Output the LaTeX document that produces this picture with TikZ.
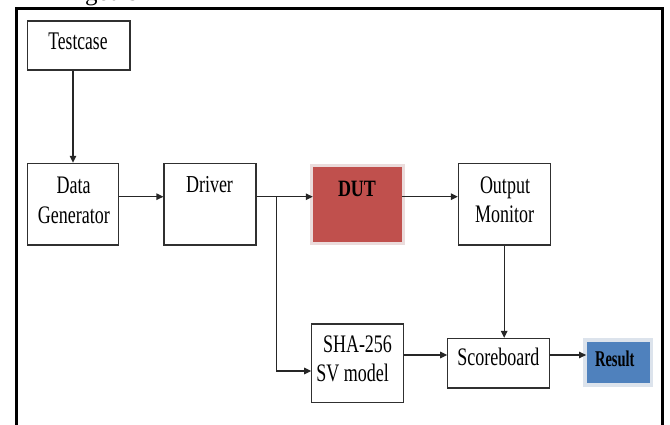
\documentclass[tikz,border=0pt]{standalone}
\usepackage{fontspec}
\usepackage{graphicx}
\setmainfont{Liberation Serif}
\usetikzlibrary{arrows.meta}
\definecolor{dutred}{HTML}{C0504D}
\definecolor{resblue}{HTML}{4F81BD}
\definecolor{dutpale}{HTML}{EBDCDC}
\definecolor{respale}{HTML}{DCE3EC}
\definecolor{edge}{HTML}{303030}
\newcommand\vst[2][1.4]{\scalebox{1}[#1]{#2}}
\begin{document}
\begin{tikzpicture}[x=1pt,y=-1pt,
  box/.style={draw=edge, line width=1.1pt, inner sep=0pt, fill=white},
  lbl/.style={inner sep=0pt, anchor=base, font=\fontsize{18}{21}\selectfont},
  arr/.style={draw=black!85, line width=1.2pt, -{Triangle[length=7pt,width=6.5pt]}},
  ln/.style={draw=black!85, line width=1.2pt}]
\useasboundingbox (0,0) rectangle (670,425);
\fill[white] (0,0) rectangle (670,425);
\node[lbl, font=\fontsize{25}{30}\selectfont] (goals) at (111.5,1) {goals};
\draw[line width=3pt, line join=miter] (16,450) -- (16,8.7) -- (662,8.7) -- (662,450);

% boxes
\node[box, minimum width=102.3pt, minimum height=49pt] (tc) at (78.8,45.5) {};
\node[lbl, font=\fontsize{17.5}{21}\selectfont] (tct) at (78,49.3) {\vst[1.45]{Testcase}};

\node[box, minimum width=90.6pt, minimum height=81.7pt] (dg) at (73,204.2) {};
\node[lbl] (dgt1) at (73.7,193.3) {\vst{Data}};
\node[lbl] (dgt2) at (73.8,223.3) {\vst{Generator}};

\node[box, minimum width=92pt, minimum height=81.7pt] (dr) at (210,204.2) {};
\node[lbl] (drt) at (209.5,192.7) {\vst[1.35]{Driver}};

\node[box, draw=none, fill=dutred, preaction={draw=dutpale, line width=7pt},
      minimum width=88.4pt, minimum height=74.4pt] (dut) at (357.5,204.5) {};
\node[lbl, font=\fontsize{18}{21}\bfseries] (dutt) at (357,196.7) {\vst[1.3]{DUT}};

\node[box, minimum width=91.7pt, minimum height=81.7pt] (om) at (504.2,204.2) {};
\node[lbl] (omt1) at (505,193.3) {\vst{Output}};
\node[lbl] (omt2) at (504.7,222.7) {\vst{Monitor}};

\node[box, minimum width=91.6pt, minimum height=78.7pt] (sha) at (357.5,363.3) {};
\node[lbl] (shat1) at (357.5,352.7) {\vst{SHA-256}};
\node[lbl] (shat2) at (352.5,381.7) {\vst{SV model}};

\node[box, minimum width=102pt, minimum height=49.5pt] (sb) at (498.7,363.2) {};
\node[lbl] (sbt) at (498.3,365.7) {\vst{Scoreboard}};

\node[box, draw=none, fill=resblue, preaction={draw=respale, line width=7pt},
      minimum width=63.3pt, minimum height=41.6pt] (res) at (618.3,362.5) {};
\node[lbl, font=\fontsize{14.5}{18}\bfseries] (rest) at (614.8,366.7) {\vst[1.55]{Result}};

% connectors
\coordinate (j) at (276.7,196.7);
\draw[arr] (dg.north |- tc.south) -- (dg.north);
\draw[arr] ([yshift=7.5pt]dg.east) -- ([yshift=7.5pt]dr.west);
\draw[arr] ([yshift=7.5pt]dr.east) -- ([yshift=7.8pt]dut.west);
\draw[arr] (j) |- ([yshift=-7.7pt]sha.west);
\draw[arr] ([yshift=7.8pt]dut.east) -- ([yshift=7.5pt]om.west);
\draw[arr] (om.south) -- (om.south |- sb.north);
\draw[arr] ([yshift=8.3pt]sha.east) -- ([yshift=8.2pt]sb.west);
\draw[arr] ([yshift=8.2pt]sb.east) -- ([yshift=7.5pt]res.west);
\end{tikzpicture}
\end{document}
